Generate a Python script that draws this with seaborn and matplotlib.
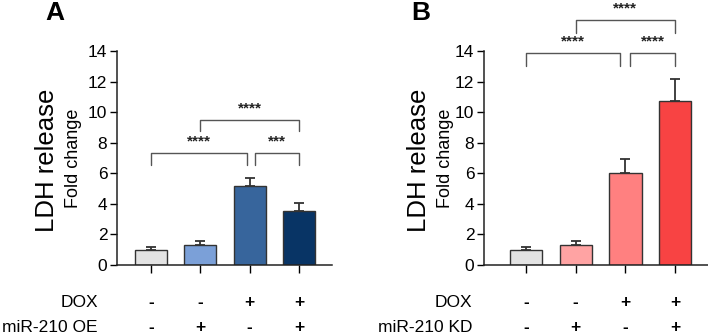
import numpy as np
import pandas as pd
import matplotlib
matplotlib.use("Agg")
import matplotlib.pyplot as plt
import seaborn as sns

# data
groups = ["G1", "G2", "G3", "G4"]
means_a = [1.0, 1.3, 5.2, 3.55]
err_a = [0.2, 0.25, 0.5, 0.5]
means_b = [1.0, 1.3, 6.0, 10.7]
err_b = [0.2, 0.25, 0.95, 1.45]
colors_a = ["#e3e3e3", "#7ba0d8", "#37659c", "#083465"]
colors_b = ["#e3e3e3", "#ffa3a3", "#ff8080", "#f84343"]
dox_signs = ["-", "-", "+", "+"]
mir_signs = ["-", "+", "-", "+"]
# brackets: (x1, x2, top y, leg bottom y, label)
brackets_a = [(0, 1.95, 7.3, 6.55, "****"),
              (1, 3, 9.5, 8.75, "****"),
              (2.1, 3, 7.3, 6.55, "***")]
brackets_b = [(0, 1.9, 13.85, 13.0, "****"),
              (1, 3, 16.05, 15.2, "****"),
              (2.1, 3, 13.85, 13.0, "****")]

sns.set_style("ticks")
plt.rcParams["font.family"] = ["Liberation Sans", "DejaVu Sans"]
plt.rcParams["text.color"] = "black"
plt.rcParams["xtick.color"] = "black"
plt.rcParams["ytick.color"] = "black"
plt.rcParams["axes.edgecolor"] = "black"

W, H = 708, 336
fig = plt.figure(figsize=(W / 100, H / 100), dpi=100)


def make_panel(left_px, width_px, xlim, means, errs, colors, brackets,
               row2_label, letter, letter_x, ylab_off, fold_off):
    ax = fig.add_axes([left_px / W, 71 / H, width_px / W, 214 / H])
    df = pd.DataFrame({"group": groups, "value": means})
    sns.barplot(data=df, x="group", y="value", hue="group", palette=colors,
                legend=False, width=0.65, saturation=1, edgecolor="#333333",
                linewidth=1.0, ax=ax)
    ax.errorbar(range(4), means, yerr=[np.zeros(4), errs], fmt="none",
                ecolor="#333333", elinewidth=1.3, capsize=3.6, capthick=1.3)
    ax.set_xlim(*xlim)
    ax.set_ylim(0, 14)
    ax.set_yticks(range(0, 15, 2))
    ax.set_xticks(range(4))
    ax.set_xticklabels([])
    ax.set_xlabel("")
    ax.set_ylabel("")
    ax.tick_params(axis="y", labelsize=12.5, length=5, width=1, pad=2)
    ax.tick_params(axis="x", length=6, width=1)
    sns.despine(ax=ax)
    for s in ["left", "bottom"]:
        ax.spines[s].set_linewidth(1.1)
        ax.spines[s].set_color("#222222")

    # axis titles
    ax.text(-ylab_off / width_px, 0.49, "LDH release", transform=ax.transAxes,
            rotation=90, fontsize=18.5, ha="center", va="center")
    ax.text(-fold_off / width_px, 0.5, "Fold change", transform=ax.transAxes,
            rotation=90, fontsize=13, ha="center", va="center")

    # significance brackets
    for x1, x2, top, low, lab in brackets:
        ax.plot([x1, x1, x2, x2], [low, top, top, low], color="#555555",
                lw=1.0, clip_on=False)
        ax.text((x1 + x2) / 2, top + 0.3, lab, ha="center", va="bottom",
                fontsize=11, fontweight="bold", color="#222222")

    # treatment table below the axis
    trans = ax.get_xaxis_transform()
    y1, y2 = -0.173, -0.29
    ax.text(-1.08, y1, "DOX", transform=trans, ha="right", va="center",
            fontsize=12.5)
    ax.text(-1.08, y2, row2_label, transform=trans, ha="right",
            va="center", fontsize=12.5)
    for i in range(4):
        ax.text(i, y1, dox_signs[i], transform=trans, ha="center",
                va="center", fontsize=12.5, fontweight="bold")
        ax.text(i, y2, mir_signs[i], transform=trans, ha="center",
                va="center", fontsize=12.5, fontweight="bold")

    fig.text(letter_x / W, 1 - 13 / H, letter, fontsize=19, fontweight="bold",
             ha="center", va="center")
    return ax


make_panel(117, 215, (-0.69, 3.67), means_a, err_a, colors_a, brackets_a,
           "miR-210 OE", "A", 55, 70, 44)
make_panel(484, 224, (-0.845, 3.66), means_b, err_b, colors_b, brackets_b,
           "miR-210 KD", "B", 421, 65, 38)

fig.savefig("out.png", dpi=100)
